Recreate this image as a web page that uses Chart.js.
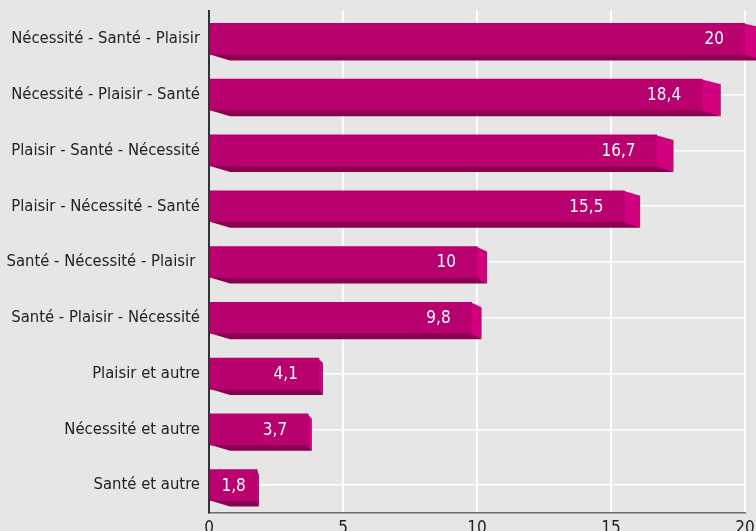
<!DOCTYPE html>
<html>
<head>
<meta charset="utf-8">
<script src="https://cdn.jsdelivr.net/npm/chart.js@4"></script>
<style>
  html, body { margin: 0; padding: 0; background: #e6e6e6; }
  #wrap { width: 756px; height: 531px; }
</style>
</head>
<body>
<div id="wrap"><canvas id="chart" width="756" height="531"></canvas></div>
<script>
const categories = [
  "Nécessité - Santé - Plaisir",
  "Nécessité - Plaisir - Santé",
  "Plaisir - Santé - Nécessité",
  "Plaisir - Nécessité - Santé",
  "Santé - Nécessité - Plaisir ",
  "Santé - Plaisir - Nécessité",
  "Plaisir et autre",
  "Nécessité et autre",
  "Santé et autre"
];
const values = [20, 18.4, 16.7, 15.5, 10, 9.8, 4.1, 3.7, 1.8];
const xMin = 0, xMax = 20, xStep = 5;

const FONT = "'DejaVu Sans Condensed', 'Liberation Sans Narrow', 'Liberation Sans', sans-serif";
const FRONT = "#b8006e";
const SIDE = "#d2007f";
const BOTTOM = "#8c0052";

function virgule(v) {
  return String(v).replace(".", ",");
}

// fond gris
const fond = {
  id: "fond",
  beforeDraw(chart) {
    const ctx = chart.ctx;
    ctx.save();
    ctx.fillStyle = "#e6e6e6";
    ctx.fillRect(0, 0, chart.width, chart.height);
    ctx.restore();
  }
};

// faces 3D (dessous + côté) derrière les barres
const relief = {
  id: "relief",
  beforeDatasetsDraw(chart) {
    const ctx = chart.ctx;
    const bars = chart.getDatasetMeta(0).data;
    ctx.save();
    bars.forEach((b) => {
      const p = b.getProps(["x", "y", "base", "height"], true);
      const top = p.y - p.height / 2;
      const bot = p.y + p.height / 2;
      const xf = p.x;
      const xb = xf + (xf - p.base) * 0.038;
      // dessous
      ctx.fillStyle = BOTTOM;
      ctx.beginPath();
      ctx.moveTo(p.base, bot - 1);
      ctx.lineTo(xf, bot - 1);
      ctx.lineTo(xb, bot + 6);
      ctx.lineTo(p.base + 20, bot + 6);
      ctx.lineTo(p.base, bot);
      ctx.closePath();
      ctx.fill();
      // côté
      ctx.fillStyle = SIDE;
      ctx.beginPath();
      ctx.moveTo(xf - 1, top);
      ctx.lineTo(xb, top + 5);
      ctx.lineTo(xb, bot + 6);
      ctx.lineTo(xf - 1, bot);
      ctx.closePath();
      ctx.fill();
    });
    ctx.restore();
  },
  afterDatasetsDraw(chart) {
    const ctx = chart.ctx;
    const area = chart.chartArea;
    const bars = chart.getDatasetMeta(0).data;
    ctx.save();
    // axe vertical redessiné par-dessus
    ctx.strokeStyle = "#333333";
    ctx.lineWidth = 2;
    ctx.beginPath();
    ctx.moveTo(area.left, area.top - 1);
    ctx.lineTo(area.left, area.bottom);
    ctx.stroke();
    // étiquettes
    ctx.font = "17px " + FONT;
    ctx.fillStyle = "#ffffff";
    ctx.textBaseline = "middle";
    bars.forEach((b, i) => {
      const p = b.getProps(["x", "y", "base"], true);
      const txt = virgule(values[i]);
      const w = ctx.measureText(txt).width;
      let right = p.x - 21;
      if (right - w < p.base + 8) right = (p.base + p.x) / 2 + w / 2;
      ctx.textAlign = "right";
      ctx.fillText(txt, right, p.y + 1);
    });
    ctx.restore();
  }
};

new Chart(document.getElementById("chart"), {
  type: "bar",
  data: {
    labels: categories,
    datasets: [{
      data: values,
      backgroundColor: FRONT,
      borderWidth: 0,
      barThickness: 31
    }]
  },
  options: {
    indexAxis: "y",
    responsive: false,
    animation: false,
    devicePixelRatio: 1,
    layout: { padding: { top: 11, right: 11, left: 0, bottom: 0 } },
    plugins: {
      legend: { display: false },
      tooltip: { enabled: false }
    },
    scales: {
      x: {
        min: xMin,
        max: xMax,
        ticks: {
          stepSize: xStep,
          color: "#222222",
          font: { family: FONT, size: 17 },
          padding: 5
        },
        grid: { color: "#ffffff", lineWidth: 2, drawTicks: false },
        border: { color: "#6a6a6a", width: 1.5 },
        afterFit(s) { s.height = 18; s.paddingLeft = 0; s.paddingRight = 0; }
      },
      y: {
        ticks: {
          color: "#222222",
          font: { family: FONT, size: 16.5 },
          padding: 9
        },
        grid: { color: "#ffffff", lineWidth: 1.5, drawTicks: false, offset: false },
        border: { color: "#333333", width: 2 },
        afterFit(s) { s.width = 209; s.paddingTop = 0; s.paddingBottom = 0; }
      }
    }
  },
  plugins: [fond, relief]
});
</script>
</body>
</html>
